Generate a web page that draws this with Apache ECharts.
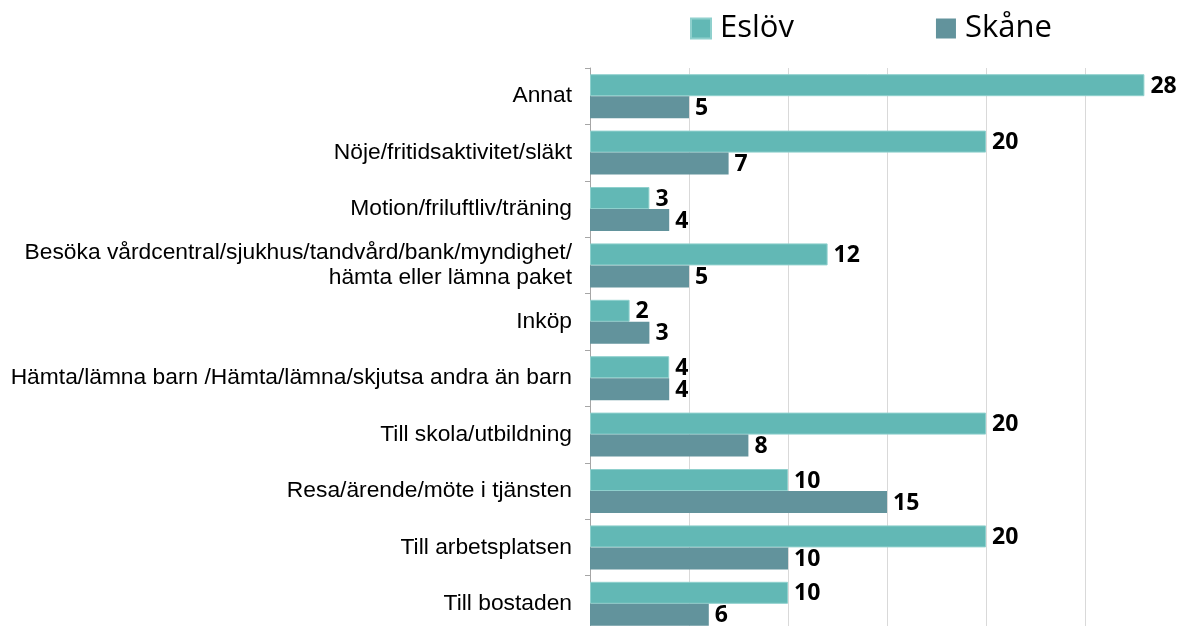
<!DOCTYPE html>
<html><head><meta charset="utf-8">
<script src="https://cdn.jsdelivr.net/npm/echarts@6/dist/echarts.min.js"></script>
<style>html,body{margin:0;padding:0;background:#fff;overflow:hidden;width:1178px;height:626px}#c{width:1184px;height:632px}</style>
</head><body><div id="c"></div>
<script>
const categories = [
  "Annat",
  "Nöje/fritidsaktivitet/släkt",
  "Motion/friluftliv/träning",
  "Besöka vårdcentral/sjukhus/tandvård/bank/myndighet/\nhämta eller lämna paket",
  "Inköp",
  "Hämta/lämna barn /Hämta/lämna/skjutsa andra än barn",
  "Till skola/utbildning",
  "Resa/ärende/möte i tjänsten",
  "Till arbetsplatsen",
  "Till bostaden"
];
const eslov = [28, 20, 3, 12, 2, 4, 20, 10, 20, 10];
const skane = [5, 7, 4, 5, 3, 4, 8, 15, 10, 6];
const seriesNames = ["Eslöv", "Skåne"];

const chart = echarts.init(document.getElementById('c'));
const lbl = {show: true, position: 'right', distance: 6, offset: [0, 1], color: '#000', fontWeight: 'bold', fontSize: 23, fontFamily: 'Open Sans'};
chart.setOption({
  animation: false,
  legend: {
    left: 685, top: 8, itemWidth: 20, itemHeight: 20, itemGap: 142,
    icon: 'rect',
    textStyle: {fontSize: 31, fontFamily: 'Open Sans', color: '#000', padding: [0,0,0,4]},
    data: seriesNames
  },
  grid: {left: 590, right: 0, top: 68, bottom: 0},
  xAxis: {
    type: 'value', min: 0, max: 30, interval: 5,
    axisLabel: {show: false}, axisLine: {show: false}, axisTick: {show: false},
    splitLine: {show: true, lineStyle: {color: '#d9d9d9', width: 1}}
  },
  yAxis: {
    type: 'category', inverse: true, data: categories,
    axisLine: {show: true, lineStyle: {color: '#a6a6a6'}},
    axisTick: {show: true, length: 5, lineStyle: {color: '#a6a6a6'}},
    axisLabel: {fontSize: 22.8, fontFamily: 'Liberation Sans', color: '#000', margin: 18, align: 'right', lineHeight: 25}
  },
  series: [
    {name: seriesNames[0], type: 'bar', data: eslov, barGap: '0%', barCategoryGap: '22%',
     itemStyle: {color: '#62b8b5', borderColor: '#8fd0cd', borderWidth: 1}, label: lbl},
    {name: seriesNames[1], type: 'bar', data: skane,
     itemStyle: {color: '#62939c', borderColor: '#62939c', borderWidth: 0}, label: lbl}
  ]
});
</script></body></html>
